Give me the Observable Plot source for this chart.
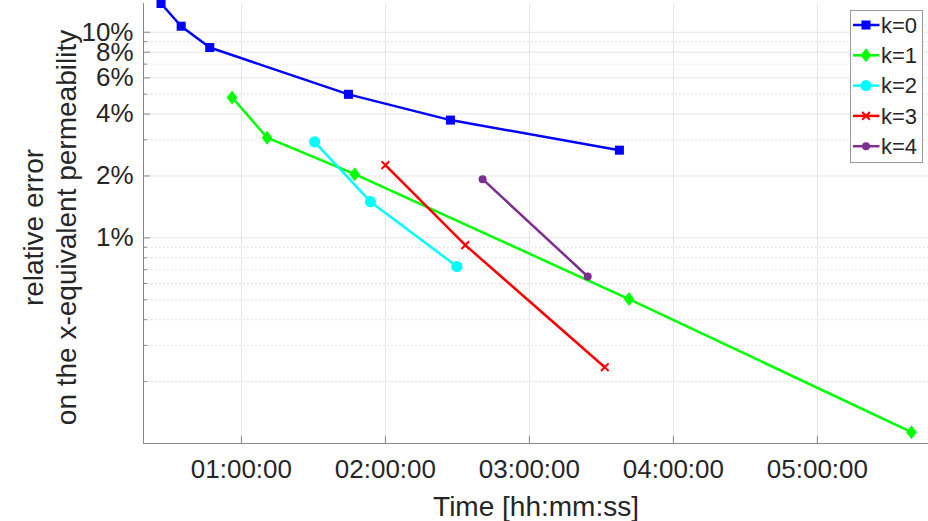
<!DOCTYPE html>
<html><head><meta charset="utf-8">
<script src="https://cdn.jsdelivr.net/npm/d3@7"></script>
<script src="https://cdn.jsdelivr.net/npm/@observablehq/plot@0.6"></script>
<style>
html,body{margin:0;padding:0;background:#fff;}
#wrap{position:relative;width:928px;height:521px;overflow:hidden;font-family:"Liberation Sans",Arial,sans-serif;}
#legend{position:absolute;left:850px;top:10px;}
</style></head><body><div id="wrap"></div>
<script>
// ---- data (time in minutes, relative error in %) ----
const seriesNames = ["k=0", "k=1", "k=2", "k=3", "k=4"];
const seriesColors = ["#0000ff", "#00ff00", "#00ffff", "#ff0000", "#7e2f8e"];
const timeK0 = [26.5, 34.9, 46.8, 104.6, 147.1, 217.5];
const errK0  = [13.8, 10.7, 8.43, 4.99, 3.74, 2.67];
const timeK1 = [56.1, 70.7, 107.2, 221.5, 339.2];
const errK1  = [4.82, 3.07, 2.04, 0.504, 0.1135];
const timeK2 = [90.5, 113.75, 149.8];
const errK2  = [2.93, 1.50, 0.726];
const timeK3 = [120.0, 153.3, 211.4];
const errK3  = [2.26, 0.922, 0.235];
const timeK4 = [160.5, 204.3];
const errK4  = [1.93, 0.649];
const xTicks = [60, 120, 180, 240, 300];
const yTicks = [1, 2, 4, 6, 8, 10];
const yMinorTicks = [0.2, 0.3, 0.4, 0.5, 0.6, 0.7, 0.8, 0.9, 3, 5, 7, 9];
const xDomain = [19.2, 346.3];
const yDomain = [0.1, 13.8];

const times = [timeK0, timeK1, timeK2, timeK3, timeK4];
const errs = [errK0, errK1, errK2, errK3, errK4];
const rows = seriesNames.flatMap((s, i) => times[i].map((t, j) => ({series: s, t, e: errs[i][j]})));

const diamondTall = {draw(ctx, size) {
  const r = Math.sqrt(size / Math.PI), w = 0.97 * r, h = 1.27 * r;
  ctx.moveTo(0, -h); ctx.lineTo(w, 0); ctx.lineTo(0, h); ctx.lineTo(-w, 0); ctx.closePath();
}};
const markerStyle = {
  "k=0": {symbol: "square", r: 5.1, fill: true},
  "k=1": {symbol: diamondTall, r: 5.5, fill: true},
  "k=2": {symbol: "circle", r: 5.6, fill: true},
  "k=3": {symbol: "times", r: 3.6, fill: false},
  "k=4": {symbol: "circle", r: 4.0, fill: true}
};

const pad = n => String(n).padStart(2, "0");
const fmtTime = m => { const s = Math.round(m * 60); return `${pad(Math.floor(s / 3600))}:${pad(Math.floor(s % 3600 / 60))}:${pad(s % 60)}`; };

const axisGray = "#8a8a8a", textCol = "#262626";
const font = '"Liberation Sans", Arial, sans-serif';

const dotMarks = seriesNames.map((s, i) => {
  const st = markerStyle[s];
  const data = rows.filter(d => d.series === s);
  return st.fill
    ? Plot.dot(data, {x: "t", y: "e", symbol: () => st.symbol, r: st.r, fill: seriesColors[i], stroke: "none"})
    : Plot.dot(data, {x: "t", y: "e", symbol: () => st.symbol, r: st.r, fill: "none", stroke: seriesColors[i], strokeWidth: 2});
});

const chart = Plot.plot({
  width: 928, height: 521,
  marginLeft: 143, marginRight: 0, marginTop: 3, marginBottom: 78,
  style: {fontFamily: font, background: "#fff"},
  x: {type: "linear", domain: xDomain, axis: null},
  y: {type: "log", domain: yDomain, axis: null},
  color: {domain: seriesNames, range: seriesColors},
  symbol: {type: "identity"},
  marks: [
    Plot.gridY(yMinorTicks, {stroke: "#d9d9d9", strokeOpacity: 1, strokeDasharray: "1.5,2.5"}),
    Plot.gridY(yTicks, {stroke: "#e6e6e6", strokeOpacity: 1}),
    Plot.gridX(xTicks, {stroke: "#e6e6e6", strokeOpacity: 1}),
    Plot.ruleX([xDomain[0]], {stroke: axisGray}),
    Plot.ruleY([yDomain[0]], {stroke: axisGray}),
    Plot.axisX({ticks: xTicks, tickSize: -7, tickFormat: () => "", color: axisGray, label: null}),
    Plot.axisX({ticks: xTicks, tickSize: 0, tickPadding: 16, tickFormat: fmtTime, fontSize: 26, color: textCol, label: null}),
    Plot.axisY({ticks: yTicks, tickSize: -7, tickFormat: () => "", color: axisGray, label: null}),
    Plot.axisY({ticks: yMinorTicks, tickSize: -4, tickFormat: () => "", color: axisGray, label: null}),
    Plot.text(yTicks, {y: d => d, text: d => d + "%", frameAnchor: "left", textAnchor: "end", dx: -10, fontSize: 26, fill: textCol}),
    Plot.text(["Time [hh:mm:ss]"], {frameAnchor: "bottom", dy: 72, lineAnchor: "bottom", fontSize: 28, fill: textCol}),
    Plot.text(["relative error"], {frameAnchor: "left", rotate: -90, dx: -101, dy: 4, textAnchor: "middle", lineAnchor: "bottom", fontSize: 28, fill: textCol}),
    Plot.text(["on the x-equivalent permeability"], {frameAnchor: "left", rotate: -90, dx: -68, dy: 4, textAnchor: "middle", lineAnchor: "bottom", fontSize: 28, fill: textCol}),
    Plot.line(rows, {x: "t", y: "e", z: "series", stroke: "series", strokeWidth: 2.5}),
    ...dotMarks
  ]
});
const wrap = document.getElementById("wrap");
wrap.appendChild(chart);

// ---- legend ----
const lg = d3.select(wrap).append("svg").attr("id", "legend").attr("width", 73).attr("height", 153);
lg.append("rect").attr("x", 0.5).attr("y", 0.5).attr("width", 72).attr("height", 152)
  .attr("fill", "#fff").attr("stroke", "#9a9a9a");
seriesNames.forEach((s, i) => {
  const cy = 15 + i * 30.3, st = markerStyle[s];
  const g = lg.append("g");
  g.append("line").attr("x1", 3).attr("x2", 29.5).attr("y1", cy).attr("y2", cy)
    .attr("stroke", seriesColors[i]).attr("stroke-width", 2.5);
  const symType = typeof st.symbol === "string" ? ({square: d3.symbolSquare, circle: d3.symbolCircle, times: d3.symbolTimes})[st.symbol] : st.symbol;
  g.append("path").attr("transform", `translate(16,${cy})`)
    .attr("d", d3.symbol(symType, Math.PI * st.r * st.r)())
    .attr("fill", st.fill ? seriesColors[i] : "none")
    .attr("stroke", st.fill ? "none" : seriesColors[i]).attr("stroke-width", 2);
  g.append("text").attr("x", 31).attr("y", cy).attr("dy", "0.35em")
    .attr("font-size", 22).attr("fill", textCol)
    .attr("font-family", font).text(s);
});
</script></body></html>
